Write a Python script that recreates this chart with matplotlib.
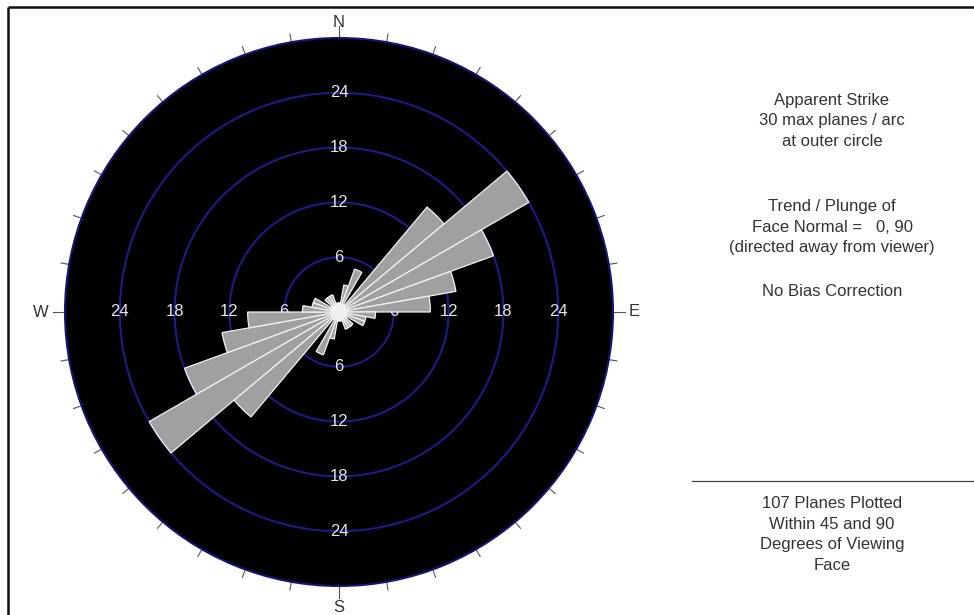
import matplotlib
matplotlib.use('Agg')
import matplotlib.pyplot as plt
import numpy as np

plt.rcParams['font.family'] = ['Liberation Sans', 'DejaVu Sans']

# ---- data (apparent strike rose, 10-degree arcs, compass degrees) ----
bin_start = list(range(0, 360, 10))
counts = [1, 3, 5, 1, 15, 24, 18, 13, 10, 4, 3, 3, 1, 2, 2, 2, 1, 1,
          1, 3, 5, 1, 15, 24, 18, 13, 10, 4, 3, 3, 1, 2, 2, 2, 1, 1]
ring_values = [6, 12, 18, 24]
r_max = 30
compass_labels = ['N', 'E', 'S', 'W']
compass_angles = [0, 90, 180, 270]

info_top = ['Apparent Strike', '30 max planes / arc', 'at outer circle']
info_mid = ['Trend / Plunge of', 'Face Normal =   0, 90', '(directed away from viewer)']
info_bias = ['No Bias Correction']
info_bottom = ['107 Planes Plotted', 'Within 45 and 90', 'Degrees of Viewing', 'Face']

W, H = 974, 615
fig = plt.figure(figsize=(W / 100, H / 100), dpi=100)
fig.patch.set_facecolor('white')

bg = fig.add_axes([0, 0, 1, 1])
bg.set_xlim(0, W)
bg.set_ylim(H, 0)
bg.axis('off')

# frame lines
bg.plot([7.5, W], [6.5, 6.5], color='#111111', lw=1.8, solid_capstyle='butt')
bg.plot([7.5, 7.5], [6.5, H], color='#111111', lw=1.8, solid_capstyle='butt')
# separator line
bg.plot([692, W], [480.5, 480.5], color='#444444', lw=0.9)

txt_kw = dict(ha='center', va='center', fontsize=12, color='#333333')
xc_txt = 832
for i, s in enumerate(info_top):
    bg.text(xc_txt, 101 + i * 20, s, **txt_kw)
for i, s in enumerate(info_mid):
    bg.text(xc_txt, 207 + i * 20.3, s, **txt_kw)
for i, s in enumerate(info_bias):
    bg.text(xc_txt, 292, s, **txt_kw)
for i, s in enumerate(info_bottom):
    bg.text(xc_txt, 504 + i * 20.5, s, **txt_kw)

# ---- polar rose ----
cx, cy, R = 339, 312, 274
ax = fig.add_axes([(cx - R) / W, (H - cy - R) / H, 2 * R / W, 2 * R / H],
                  projection='polar')
ax.set_theta_zero_location('N')
ax.set_theta_direction(-1)
ax.set_ylim(0, r_max)
ax.set_facecolor('black')
ax.spines['polar'].set_color('#16167a')
ax.spines['polar'].set_linewidth(1.5)
ax.set_xticks([])
ax.set_yticks(ring_values)
ax.set_yticklabels([])
ax.set_axisbelow(True)
ax.yaxis.grid(True, color='#1c1c88', lw=1.5)
ax.tick_params(axis='y', length=0)

theta = np.deg2rad(np.array(bin_start) + 5)
ax.bar(theta, counts, width=np.deg2rad(10), bottom=0, color='#a0a0a0',
       edgecolor='#f2f2f2', linewidth=0.9, zorder=3, align='center')

for v in ring_values:
    for a in compass_angles:
        ax.text(np.deg2rad(a), v, str(v), color='#e6e6e6', fontsize=12,
                ha='center', va='center', zorder=2)

for a in range(0, 360, 10):
    L = 1.3 if a % 90 == 0 else 0.9
    ax.plot([np.deg2rad(a)] * 2, [r_max, r_max + L], color='#555555', lw=0.8,
            clip_on=False, zorder=1)

label_r = {'N': 1.7, 'E': 2.3, 'S': 2.3, 'W': 2.6}
for lab, a in zip(compass_labels, compass_angles):
    ax.text(np.deg2rad(a), r_max + label_r[lab], lab, color='#333333', fontsize=12,
            ha='center', va='center', clip_on=False)

fig.savefig('out.png', dpi=100, facecolor='white')
